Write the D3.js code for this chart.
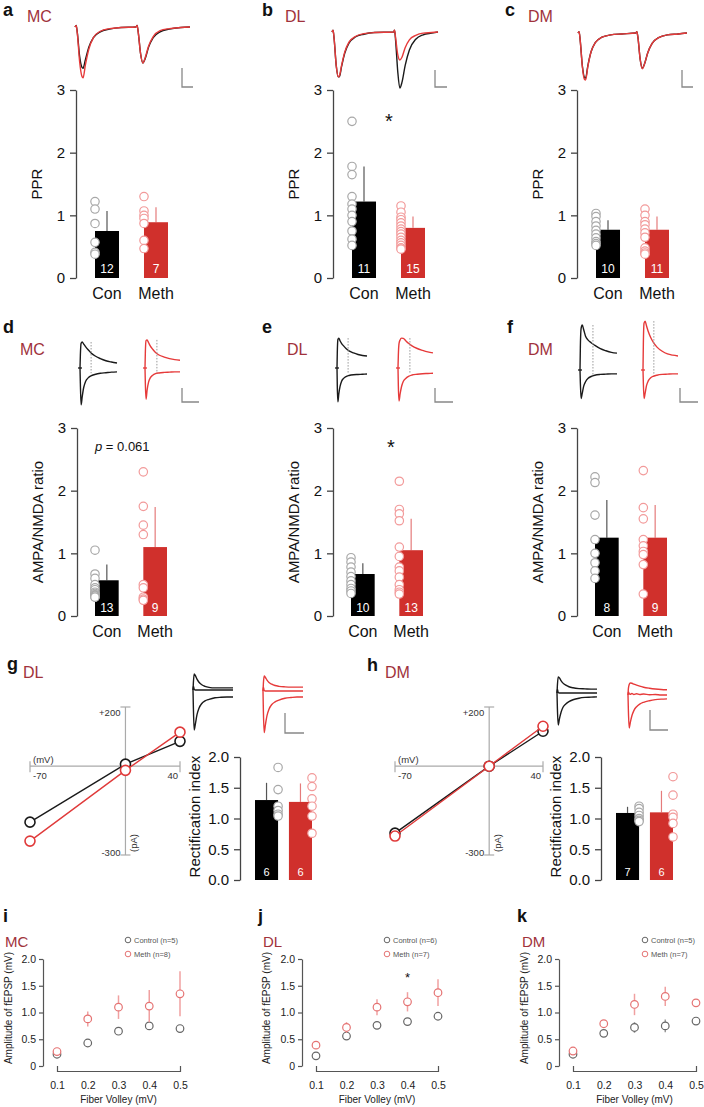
<!DOCTYPE html>
<html><head><meta charset="utf-8">
<script src="https://cdn.jsdelivr.net/npm/d3@7"></script>
<style>body{margin:0;background:#fff}svg{display:block}text{font-family:"Liberation Sans",Arial,sans-serif}</style>
</head><body><svg id="c" width="704" height="1107"></svg>
<script>
// ===== DATA =====
const groups = ["Con", "Meth"];
// PPR (a–c)
const pprMC_mean = [0.75, 0.89], pprMC_sem = [0.32, 0.24], pprMC_n = [12, 7];
const pprMC_con = [1.22, 1.1, 0.87, 0.57, 0.41, 0.38];
const pprMC_meth = [1.3, 1.07, 1.0, 0.95, 0.87, 0.6, 0.47];
const pprDL_mean = [1.22, 0.80], pprDL_sem = [0.56, 0.18], pprDL_n = [11, 15];
const pprDL_con = [2.5, 1.78, 1.65, 1.3, 1.18, 1.1, 1.0, 0.9, 0.75, 0.62, 0.52];
const pprDL_meth = [1.15, 1.05, 0.97, 0.93, 0.88, 0.83, 0.78, 0.74, 0.7, 0.65, 0.6, 0.56, 0.52, 0.48, 0.46];
const pprDM_mean = [0.77, 0.77], pprDM_sem = [0.15, 0.21], pprDM_n = [10, 11];
const pprDM_con = [1.03, 0.98, 0.9, 0.83, 0.76, 0.7, 0.64, 0.58, 0.55, 0.52];
const pprDM_meth = [1.1, 1.0, 0.9, 0.85, 0.78, 0.72, 0.65, 0.48, 0.43, 0.4, 0.38];
// AMPA/NMDA (d–f)
const anMC_mean = [0.57, 1.1], anMC_sem = [0.25, 0.64], anMC_n = [13, 9];
const anMC_con = [1.05, 0.67, 0.6, 0.5, 0.45, 0.42, 0.38, 0.36, 0.34, 0.33, 0.32, 0.3, 0.3];
const anMC_meth = [2.3, 1.75, 1.45, 1.3, 0.5, 0.45, 0.3, 0.27, 0.25];
const anDL_mean = [0.67, 1.05], anDL_sem = [0.17, 0.5], anDL_n = [10, 13];
const anDL_con = [0.93, 0.86, 0.78, 0.7, 0.63, 0.56, 0.5, 0.44, 0.4, 0.36];
const anDL_meth = [2.15, 1.7, 1.63, 1.52, 1.1, 0.95, 0.78, 0.72, 0.62, 0.5, 0.42, 0.38, 0.35];
const anDM_mean = [1.25, 1.25], anDM_sem = [0.6, 0.52], anDM_n = [8, 9];
const anDM_con = [2.22, 2.13, 1.61, 1.22, 1.0, 0.85, 0.72, 0.6];
const anDM_meth = [2.32, 1.73, 1.55, 1.22, 1.12, 1.03, 0.98, 0.82, 0.35];
// Rectification index (g, h)
const riDL_mean = [1.30, 1.27], riDL_sem = [0.28, 0.3], riDL_n = [6, 6];
const riDL_con = [1.83, 1.47, 1.2, 1.13, 1.07, 1.04];
const riDL_meth = [1.66, 1.52, 1.32, 1.2, 1.04, 0.76];
const riDM_mean = [1.09, 1.1], riDM_sem = [0.1, 0.35], riDM_n = [7, 6];
const riDM_con = [1.2, 1.16, 1.1, 1.05, 1.0, 0.97, 0.95];
const riDM_meth = [1.68, 1.38, 1.07, 1.02, 0.92, 0.7];
// I–V (g, h)
const ivVoltage = [-70, 0, 40];
const ivDL_con = [-189, 7, 84], ivDL_meth = [-253, -14, 115];
const ivDM_con = [-226, 0, 118], ivDM_meth = [-236, 0, 135];
// fEPSP vs fiber volley (i–k)
const fiberVolley = [0.1, 0.2, 0.3, 0.4, 0.5];
const fMC_con = [0.22, 0.43, 0.65, 0.75, 0.7], fMC_conErr = [0.02, 0.03, 0.06, 0.05, 0.03];
const fMC_meth = [0.27, 0.88, 1.1, 1.12, 1.35], fMC_methErr = [0.03, 0.14, 0.22, 0.3, 0.42];
const fDL_con = [0.19, 0.56, 0.76, 0.83, 0.93], fDL_conErr = [0.02, 0.03, 0.03, 0.03, 0.04];
const fDL_meth = [0.39, 0.72, 1.1, 1.2, 1.37], fDL_methErr = [0.03, 0.1, 0.15, 0.18, 0.25];
const fDM_con = [0.22, 0.61, 0.72, 0.75, 0.84], fDM_conErr = [0.03, 0.04, 0.1, 0.12, 0.04];
const fDM_meth = [0.28, 0.79, 1.15, 1.3, 1.18], fDM_methErr = [0.03, 0.06, 0.2, 0.18, 0.07];
const yTicksF = [0, 0.5, 1, 1.5, 2];
// Example traces (normalised time 0–100, normalised current)
const ppTime = [0,1,2,4,6,7,9,12,16,22,30,40,53,54,55,57,59,61,64,68,74,82,92,100];
const ppTimeDL = [0,1,2,4,6,7,9,12,16,22,30,40,58,59,60,62,64,66,69,73,79,86,94,100];
const ppMC_conTr  = [0,0.03,-0.1,-0.55,-0.76,-0.78,-0.62,-0.38,-0.2,-0.09,-0.04,-0.01,0,0.03,-0.1,-0.5,-0.68,-0.6,-0.38,-0.2,-0.09,-0.04,-0.01,0];
const ppMC_methTr = [0,0.03,-0.12,-0.65,-0.93,-0.96,-0.72,-0.42,-0.2,-0.08,-0.03,-0.01,0,0.03,-0.1,-0.5,-0.68,-0.58,-0.36,-0.18,-0.07,-0.03,-0.01,0];
const ppDL_conTr  = [0,0.03,-0.12,-0.6,-0.8,-0.8,-0.62,-0.38,-0.2,-0.09,-0.04,-0.01,0,0.03,-0.15,-0.7,-1.0,-0.9,-0.6,-0.32,-0.13,-0.05,-0.02,0];
const ppDL_methTr = [0,0.03,-0.12,-0.6,-0.8,-0.78,-0.6,-0.36,-0.18,-0.08,-0.03,-0.01,0,0.03,-0.1,-0.4,-0.5,-0.45,-0.28,-0.14,-0.06,-0.02,-0.01,0];
const ppDM_conTr  = [0,0.03,-0.15,-0.7,-0.95,-0.96,-0.7,-0.4,-0.2,-0.09,-0.04,-0.02,0,0.03,-0.1,-0.55,-0.75,-0.66,-0.42,-0.22,-0.1,-0.04,-0.02,0];
const ppDM_methTr = [0,0.03,-0.15,-0.72,-0.99,-1.0,-0.72,-0.4,-0.2,-0.09,-0.04,-0.02,0,0.03,-0.1,-0.55,-0.76,-0.66,-0.42,-0.22,-0.1,-0.04,-0.02,0];
const evTime = [0,1,3,6,10,15,22,30,40,55,70,85,100];
const anMC_conUp = [0,0.5,0.95,1.0,0.92,0.82,0.7,0.58,0.47,0.36,0.28,0.23,0.19];
const anMC_conLo = [0,-0.6,-1.42,-1.1,-0.75,-0.52,-0.38,-0.3,-0.25,-0.2,-0.18,-0.16,-0.15];
const anMC_methUp = [0,0.6,1.05,1.08,0.98,0.85,0.72,0.6,0.5,0.42,0.36,0.32,0.3];
const anMC_methLo = [0,-0.6,-1.2,-0.85,-0.55,-0.38,-0.28,-0.22,-0.19,-0.17,-0.16,-0.15,-0.15];
const anDL_conUp = [0,0.6,1.1,1.15,1.05,0.95,0.85,0.75,0.66,0.58,0.52,0.48,0.46];
const anDL_conLo = [0,-0.7,-1.3,-1.0,-0.72,-0.52,-0.4,-0.33,-0.29,-0.26,-0.25,-0.24,-0.23];
const anDL_methUp = [0,0.5,0.95,1.08,1.15,1.14,1.05,0.95,0.85,0.75,0.68,0.62,0.58];
const anDL_methLo = [0,-0.7,-1.27,-1.0,-0.72,-0.52,-0.4,-0.32,-0.27,-0.24,-0.22,-0.21,-0.2];
const anDM_conUp = [0,0.9,1.6,1.73,1.55,1.3,1.15,1.05,0.95,0.82,0.74,0.68,0.65];
const anDM_conLo = [0,-0.5,-1.1,-0.9,-0.62,-0.45,-0.32,-0.25,-0.2,-0.17,-0.16,-0.15,-0.15];
const anDM_methUp = [0,1.0,1.8,1.88,1.7,1.48,1.25,1.05,0.88,0.72,0.62,0.57,0.54];
const anDM_methLo = [0,-0.5,-1.1,-0.9,-0.6,-0.42,-0.3,-0.24,-0.2,-0.17,-0.16,-0.15,-0.15];
const anDotT = [30, 34, 37, 34, 35, 31];
const ivDL_conUp = [0,0.3,0.62,0.55,0.42,0.3,0.2,0.14,0.1,0.08,0.08,0.08,0.08];
const ivDL_conMid = [0,0.15,0.03,0,0,0,0,0,0,0,0,0,0];
const ivDL_conLo = [0,-0.7,-1.54,-1.3,-0.95,-0.7,-0.52,-0.42,-0.36,-0.3,-0.28,-0.27,-0.27];
const ivDL_methUp = [0,0.3,0.58,0.52,0.42,0.33,0.26,0.21,0.18,0.16,0.15,0.15,0.15];
const ivDL_methMid = [0,0.15,0.02,0,0,0,0,0,0,0,0,0,0];
const ivDL_methLo = [0,-0.8,-1.6,-1.3,-0.95,-0.7,-0.52,-0.42,-0.35,-0.28,-0.25,-0.23,-0.23];
const ivDM_conUp = [0,0.3,0.62,0.58,0.48,0.38,0.3,0.24,0.2,0.17,0.16,0.15,0.15];
const ivDM_conMid = [0,0.15,0.02,0,0,0,0,0,0,0,0,0,0];
const ivDM_conLo = [0,-0.6,-1.23,-1.0,-0.75,-0.55,-0.42,-0.33,-0.26,-0.2,-0.17,-0.16,-0.15];
const ivDM_methUp = [0,0.25,0.4,0.46,0.45,0.42,0.38,0.34,0.3,0.26,0.23,0.21,0.2];
const ivDM_methMid = [0,0.12,0.05,0.03,0.06,0.02,0.05,0.02,0.04,0.01,0.02,0,0];
const ivDM_methLo = [0,-0.6,-1.27,-1.05,-0.8,-0.6,-0.45,-0.35,-0.28,-0.22,-0.18,-0.16,-0.15];

// ===== STYLE =====
const FONT = '"Liberation Sans", Arial, sans-serif';
const RED = "#d0302c", DARKRED = "#a0323c", TRACE_RED = "#e63a3a", TRACE_BLK = "#1a1a1a";
const svg = d3.select("#c");

function txt(x, y, s, o = {}) {
  const t = svg.append("text").attr("x", x).attr("y", y).text(s)
    .attr("font-size", o.fs || 15).attr("fill", o.fill || "#111")
    .attr("text-anchor", o.anchor || "start").attr("font-family", FONT);
  if (o.bold) t.attr("font-weight", "bold");
  if (o.rot) t.attr("transform", `rotate(-90,${x},${y})`);
  return t;
}
function panelLabel(letter, lx, ly, region, rx, ry, rfs) {
  txt(lx, ly, letter, { fs: 18, bold: true });
  txt(rx, ry, region, { fs: rfs || 16, fill: DARKRED });
}
function scaleBar(x, y1, y2, x2) {
  svg.append("path").attr("d", `M${x},${y1}V${y2}H${x2}`).attr("fill", "none").attr("stroke", "#888").attr("stroke-width", 1.3);
}
function trace(time, vals, x0, x1, base, unit, color) {
  const xs = d3.scaleLinear().domain([0, 100]).range([x0, x1]);
  const ys = d3.scaleLinear().domain([0, 1]).range([base, base - unit]);
  const line = d3.line().x(d => xs(d[0])).y(d => ys(d[1])).curve(d3.curveMonotoneX);
  svg.append("path").datum(time.map((t, i) => [t, vals[i]])).attr("d", line)
    .attr("fill", "none").attr("stroke", color).attr("stroke-width", 1.4);
  return { xs, ys };
}

function barChart(o) {
  const y = d3.scaleLinear().domain(o.dom).range([o.y0, o.y1]);
  const x = d3.scaleBand().domain(groups).range([o.ax + o.off, o.ax + o.off + o.span]).paddingInner(o.pad).paddingOuter(0);
  const ax = svg.append("g").attr("transform", `translate(${o.ax},0)`)
    .call(d3.axisLeft(y).tickValues(o.ticks).tickFormat(o.fmt).tickSize(6).tickSizeOuter(0).tickPadding(5));
  ax.attr("font-family", FONT).attr("font-size", 15);
  ax.select(".domain").attr("stroke", "#444").attr("stroke-width", 1.3);
  ax.selectAll(".tick line").attr("stroke", "#444").attr("stroke-width", 1.3);
  ax.selectAll(".tick text").attr("fill", "#111");
  groups.forEach((gname, i) => {
    const cx = x(gname) + x.bandwidth() / 2;
    svg.append("line").attr("x1", cx).attr("x2", cx).attr("y1", y(o.mean[i])).attr("y2", y(o.mean[i] + o.sem[i]))
      .attr("stroke", i ? "#e57b7b" : "#555").attr("stroke-width", 1.2);
    svg.append("rect").attr("x", x(gname)).attr("width", x.bandwidth()).attr("y", y(o.mean[i]))
      .attr("height", y(0) - y(o.mean[i])).attr("fill", i ? RED : "#000");
    const dx = o.dotRight ? x(gname) + x.bandwidth() : x(gname);
    svg.append("g").selectAll("circle").data(o.dots[i]).join("circle")
      .attr("cx", dx).attr("cy", d => y(d)).attr("r", 4.2).attr("fill", "#fff")
      .attr("stroke", i ? "#f29a9a" : "#a8a8a8").attr("stroke-width", 1.2);
    txt(cx, o.nY, o.n[i], { fs: o.nFs || 12, fill: "#fff", anchor: "middle" });
    if (o.catY) txt(cx, o.catY, gname, { fs: 16, anchor: "middle" });
  });
  txt(o.labX, (o.y0 + o.y1) / 2 + (o.labDy || 0), o.label, { fs: 15, anchor: "middle", rot: true });
  return { x, y };
}

function ivPlot(o) {
  const xs = d3.scaleLinear().domain([-70, 40]).range([o.x0, o.x1]);
  const ys = d3.scaleLinear().domain([-300, 200]).range([855, 707]);
  const ax = "#aaa";
  const y0 = ys(0), x0 = xs(0);
  svg.append("line").attr("x1", xs(-70)).attr("x2", xs(40)).attr("y1", y0).attr("y2", y0).attr("stroke", ax).attr("stroke-width", 1.2);
  svg.append("line").attr("x1", x0).attr("x2", x0).attr("y1", ys(200)).attr("y2", ys(-300)).attr("stroke", ax).attr("stroke-width", 1.2);
  [-70, 40].forEach(v => svg.append("line").attr("x1", xs(v)).attr("x2", xs(v)).attr("y1", y0 - 5).attr("y2", y0 + 6).attr("stroke", ax).attr("stroke-width", 1.2));
  [200, -300].forEach(v => svg.append("line").attr("x1", x0 - 5).attr("x2", x0 + 5).attr("y1", ys(v)).attr("y2", ys(v)).attr("stroke", ax).attr("stroke-width", 1.2));
  txt(xs(-70) + 3, y0 - 3, "(mV)", { fs: 9.5, fill: "#333" });
  txt(xs(-70) + 3, y0 + 13, "-70", { fs: 9.5, fill: "#333" });
  txt(xs(40) - 2, y0 + 13, "40", { fs: 9.5, fill: "#333", anchor: "end" });
  txt(x0 - 5, ys(200) + 9, "+200", { fs: 9.5, fill: "#333", anchor: "end" });
  txt(x0 - 5, ys(-300) + 1, "-300", { fs: 9.5, fill: "#333", anchor: "end" });
  txt(x0 + 12, ys(-300) - 12, "(pA)", { fs: 9.5, fill: "#333", anchor: "middle", rot: true });
  const line = d3.line().x((d, i) => xs(ivVoltage[i])).y(d => ys(d));
  [[o.con, TRACE_BLK], [o.meth, "#e03a3a"]].forEach(([arr, col]) => {
    svg.append("path").attr("d", line(arr)).attr("fill", "none").attr("stroke", col).attr("stroke-width", 1.4);
    svg.append("g").selectAll("circle").data(arr).join("circle")
      .attr("cx", (d, i) => xs(ivVoltage[i])).attr("cy", d => ys(d)).attr("r", 5)
      .attr("fill", "#fff").attr("stroke", col).attr("stroke-width", 1.6);
  });
}

function fPlot(o) {
  const y = d3.scaleLinear().domain([0, 2]).range([1066, 959]);
  const x = d3.scaleLinear().domain([0.1, 0.5]).range([o.x0, o.x1]);
  const ay = svg.append("g").attr("transform", `translate(${o.ax},0)`)
    .call(d3.axisLeft(y).tickValues(yTicksF).tickFormat(d => d === 0 ? "0" : d3.format(".1f")(d)).tickSize(4).tickSizeOuter(0).tickPadding(3));
  ay.attr("font-family", FONT).attr("font-size", 10.5);
  ay.selectAll("line,path").attr("stroke", "#555").attr("stroke-width", 1.2);
  ay.selectAll("text").attr("fill", "#222");
  const axb = svg.append("g").attr("transform", `translate(0,1071)`)
    .call(d3.axisBottom(x).tickValues(fiberVolley).tickFormat(d3.format(".1f")).tickSize(0).tickSizeOuter(-5).tickPadding(11));
  axb.attr("font-family", FONT).attr("font-size", 10.5);
  axb.selectAll("line,path").attr("stroke", "#555").attr("stroke-width", 1.2);
  axb.selectAll("text").attr("fill", "#222");
  txt((o.x0 + o.x1) / 2, 1103, "Fiber Volley (mV)", { fs: 10, anchor: "middle", fill: "#222" });
  txt(o.labX, 1008, "Amplitude of fEPSP (mV)", { fs: 10, anchor: "middle", rot: true, fill: "#222" });
  [[o.con, o.conErr, "#666", "#999"], [o.meth, o.methErr, "#e57373", "#f0a0a0"]].forEach(([m, e, c, ec]) => {
    svg.append("g").selectAll("line").data(m).join("line")
      .attr("x1", (d, i) => x(fiberVolley[i])).attr("x2", (d, i) => x(fiberVolley[i]))
      .attr("y1", (d, i) => y(d - e[i])).attr("y2", (d, i) => y(d + e[i]))
      .attr("stroke", ec).attr("stroke-width", 1.5);
    svg.append("g").selectAll("circle").data(m).join("circle")
      .attr("cx", (d, i) => x(fiberVolley[i])).attr("cy", d => y(d)).attr("r", 3.8)
      .attr("fill", "#fff").attr("stroke", c).attr("stroke-width", 1.2);
  });
  svg.append("circle").attr("cx", o.lx).attr("cy", 940).attr("r", 2.8).attr("fill", "none").attr("stroke", "#666").attr("stroke-width", 1);
  svg.append("circle").attr("cx", o.lx).attr("cy", 954).attr("r", 2.8).attr("fill", "none").attr("stroke", "#e57373").attr("stroke-width", 1);
  txt(o.lx + 6, 943, o.legC, { fs: 7.5, fill: "#555" });
  txt(o.lx + 6, 957, o.legM, { fs: 7.5, fill: "#555" });
  return { x, y };
}

// ===== ROW 1: PPR =====
const pprTicks = [0, 1, 2, 3];
panelLabel("a", 3, 16, "MC", 27, 22);
panelLabel("b", 262, 16, "DL", 285, 22);
panelLabel("c", 505, 16, "DM", 528, 22);
trace(ppTime, ppMC_conTr, 75, 190, 27, 53, TRACE_BLK);
trace(ppTime, ppMC_methTr, 75, 190, 27, 53, TRACE_RED);
trace(ppTimeDL, ppDL_conTr, 332, 438, 32, 56, TRACE_BLK);
trace(ppTimeDL, ppDL_methTr, 332, 438, 32, 56, TRACE_RED);
trace(ppTime, ppDM_conTr, 578, 687, 33, 47, TRACE_BLK);
trace(ppTime, ppDM_methTr, 578, 687, 33, 47, TRACE_RED);
scaleBar(182, 68, 87, 193);
scaleBar(435, 70, 87, 447);
scaleBar(682, 70, 87, 693);
const row1 = { dom: [0, 3], y0: 278, y1: 90, ticks: pprTicks, fmt: d3.format("d"), off: 19, span: 73, pad: 0.51, nY: 273, catY: 299, label: "PPR" };
barChart({ ...row1, ax: 76, mean: pprMC_mean, sem: pprMC_sem, n: pprMC_n, dots: [pprMC_con, pprMC_meth], labX: 42 });
barChart({ ...row1, ax: 333, mean: pprDL_mean, sem: pprDL_sem, n: pprDL_n, dots: [pprDL_con, pprDL_meth], labX: 299 });
barChart({ ...row1, ax: 577, mean: pprDM_mean, sem: pprDM_sem, n: pprDM_n, dots: [pprDM_con, pprDM_meth], labX: 543 });
txt(389, 128, "*", { fs: 20, anchor: "middle" });

// ===== ROW 2: AMPA/NMDA =====
panelLabel("d", 3, 333, "MC", 20, 355);
panelLabel("e", 262, 333, "DL", 287, 355);
panelLabel("f", 507, 333, "DM", 528, 355);
const anPlace = [
  [anMC_conUp, anMC_conLo, 80, 117, 368, TRACE_BLK], [anMC_methUp, anMC_methLo, 145, 180, 368, TRACE_RED],
  [anDL_conUp, anDL_conLo, 337, 367, 368, TRACE_BLK], [anDL_methUp, anDL_methLo, 398, 433, 368, TRACE_RED],
  [anDM_conUp, anDM_conLo, 580, 617, 370, TRACE_BLK], [anDM_methUp, anDM_methLo, 643, 678, 370, TRACE_RED]];
anPlace.forEach(([up, lo, x0, x1, base, col], k) => {
  const s = trace(evTime, up, x0, x1, base, 26, col);
  trace(evTime, lo, x0, x1, base, 26, col);
  svg.append("line").attr("x1", s.xs(anDotT[k])).attr("x2", s.xs(anDotT[k]))
    .attr("y1", s.ys(d3.max(up))).attr("y2", s.ys(-0.2))
    .attr("stroke", "#999").attr("stroke-width", 1).attr("stroke-dasharray", "1.5,1.5");
  svg.append("line").attr("x1", x0 - 2).attr("x2", x0 + 2).attr("y1", base).attr("y2", base).attr("stroke", col).attr("stroke-width", 1.3);
});
scaleBar(182, 388, 402, 199);
scaleBar(435, 388, 402, 453);
scaleBar(680, 388, 402, 698);
const row2 = { dom: [0, 3], y0: 616, y1: 428, ticks: pprTicks, fmt: d3.format("d"), off: 18, span: 72, pad: 0.51, nY: 612, catY: 637, label: "AMPA/NMDA ratio" };
barChart({ ...row2, ax: 77, mean: anMC_mean, sem: anMC_sem, n: anMC_n, dots: [anMC_con, anMC_meth], labX: 43 });
barChart({ ...row2, ax: 333, mean: anDL_mean, sem: anDL_sem, n: anDL_n, dots: [anDL_con, anDL_meth], labX: 299 });
barChart({ ...row2, ax: 577, mean: anDM_mean, sem: anDM_sem, n: anDM_n, dots: [anDM_con, anDM_meth], labX: 543 });
const pt = txt(95, 451, "", { fs: 13 });
pt.append("tspan").attr("font-style", "italic").text("p");
pt.append("tspan").text(" = 0.061");
txt(391, 454, "*", { fs: 20, anchor: "middle" });

// ===== ROW 3: I–V & rectification =====
panelLabel("g", 7, 670, "DL", 23, 678);
panelLabel("h", 367, 671, "DM", 385, 678);
const ivPlace = [
  [ivDL_conUp, ivDL_conMid, ivDL_conLo, 193, 233, 690, TRACE_BLK], [ivDL_methUp, ivDL_methMid, ivDL_methLo, 263, 303, 691, TRACE_RED],
  [ivDM_conUp, ivDM_conMid, ivDM_conLo, 557, 597, 693, TRACE_BLK], [ivDM_methUp, ivDM_methMid, ivDM_methLo, 628, 667, 695, TRACE_RED]];
ivPlace.forEach(([up, mid, lo, x0, x1, base, col]) => {
  trace(evTime, up, x0, x1, base, 26, col);
  trace(evTime, mid, x0, x1, base, 26, col);
  trace(evTime, lo, x0, x1, base, 26, col);
});
scaleBar(285, 713, 733, 304);
scaleBar(650, 710, 730, 668);
ivPlot({ x0: 30, x1: 180, con: ivDL_con, meth: ivDL_meth });
ivPlot({ x0: 395, x1: 543, con: ivDM_con, meth: ivDM_meth });
const row3 = { dom: [0, 2], y0: 880, y1: 757, ticks: [0, 0.5, 1, 1.5, 2], fmt: d3.format(".1f"), off: 15, span: 57, pad: 0.32, nY: 876, nFs: 11, dotRight: true, label: "Rectification index", labDy: -2 };
barChart({ ...row3, ax: 240, mean: riDL_mean, sem: riDL_sem, n: riDL_n, dots: [riDL_con, riDL_meth], labX: 200 });
barChart({ ...row3, ax: 601, mean: riDM_mean, sem: riDM_sem, n: riDM_n, dots: [riDM_con, riDM_meth], labX: 561 });

// ===== ROW 4: fEPSP =====
panelLabel("i", 3, 922, "MC", 5, 947, 15);
panelLabel("j", 258, 922, "DL", 263, 947, 15);
panelLabel("k", 517, 922, "DM", 522, 947, 15);
fPlot({ ax: 43, x0: 57, x1: 180, labX: 12, lx: 128, con: fMC_con, conErr: fMC_conErr, meth: fMC_meth, methErr: fMC_methErr, legC: "Control (n=5)", legM: "Meth (n=8)" });
const fj = fPlot({ ax: 302, x0: 316, x1: 438, labX: 270, lx: 387, con: fDL_con, conErr: fDL_conErr, meth: fDL_meth, methErr: fDL_methErr, legC: "Control (n=6)", legM: "Meth (n=7)" });
fPlot({ ax: 559, x0: 573, x1: 696, labX: 528, lx: 645, con: fDM_con, conErr: fDM_conErr, meth: fDM_meth, methErr: fDM_methErr, legC: "Control (n=5)", legM: "Meth (n=7)" });
txt(fj.x(0.4), 982, "*", { fs: 13, anchor: "middle" });
</script></body></html>
